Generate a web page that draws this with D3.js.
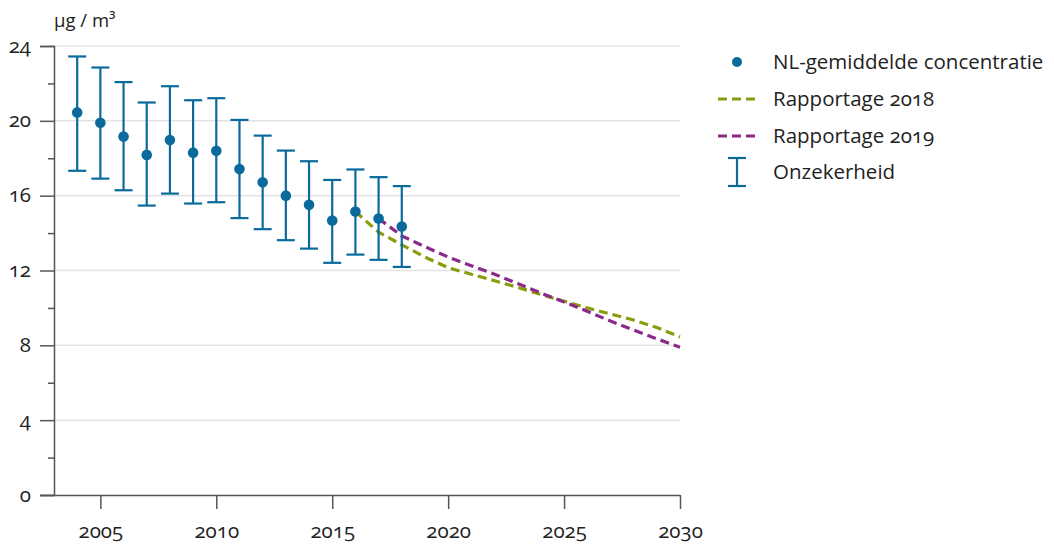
<!DOCTYPE html>
<html>
<head>
<meta charset="utf-8">
<script src="https://cdn.jsdelivr.net/npm/d3@7"></script>
<style>
  body { margin: 0; background: #fff; }
  svg text { font-family: "Open Sans", "Noto Sans", sans-serif; fill: #222; font-variant-numeric: oldstyle-nums; }
</style>
</head>
<body>
<div id="chart"></div>
<script>
const years = [2004, 2005, 2006, 2007, 2008, 2009, 2010, 2011, 2012, 2013, 2014, 2015, 2016, 2017, 2018];
const meanValues = [20.45, 19.9, 19.16, 18.18, 18.97, 18.3, 18.4, 17.42, 16.72, 16.0, 15.51, 14.67, 15.15, 14.78, 14.35];
const upperValues = [23.44, 22.85, 22.07, 20.98, 21.85, 21.1, 21.21, 20.05, 19.21, 18.41, 17.84, 16.84, 17.4, 16.99, 16.51];
const lowerValues = [17.33, 16.91, 16.29, 15.47, 16.11, 15.58, 15.65, 14.8, 14.21, 13.62, 13.17, 12.41, 12.85, 12.57, 12.19];

const years2018 = [2016, 2017, 2018, 2019, 2020, 2021, 2022, 2023, 2024, 2025, 2026, 2027, 2028, 2029, 2030];
const rapportage2018 = [15.15, 14.05, 13.37, 12.72, 12.15, 11.8, 11.45, 11.1, 10.72, 10.36, 10.0, 9.68, 9.35, 8.95, 8.45];
const years2019 = [2017, 2018, 2019, 2020, 2021, 2022, 2023, 2024, 2025, 2026, 2027, 2028, 2029, 2030];
const rapportage2019 = [14.78, 13.85, 13.27, 12.72, 12.25, 11.8, 11.3, 10.8, 10.32, 9.82, 9.3, 8.82, 8.35, 7.9];

const yTicks = [0, 4, 8, 12, 16, 20, 24];
const yMinor = [2, 6, 10, 14, 18, 22];
const xTicks = [2005, 2010, 2015, 2020, 2025, 2030];
const legendLabels = ["NL-gemiddelde concentratie", "Rapportage 2018", "Rapportage 2019", "Onzekerheid"];

const blue = "#0a6a9c", green = "#8b9b0c", purple = "#8c2a8c";

const width = 1054, height = 544;
const svg = d3.select("#chart").append("svg")
    .attr("width", width).attr("height", height);

const x = d3.scaleLinear().domain([2003, 2030]).range([54, 680]);
const y = d3.scaleLinear().domain([0, 24]).range([495, 46]);

// gridlines
svg.append("g").selectAll("line")
    .data(yTicks.slice(1)).enter().append("line")
    .attr("x1", x(2003)).attr("x2", x(2030))
    .attr("y1", d => y(d)).attr("y2", d => y(d))
    .attr("stroke", "#e3e3e3").attr("stroke-width", 1.5);

// y axis
const yAxis = svg.append("g").attr("transform", `translate(${x(2003)},0)`)
    .call(d3.axisLeft(y).tickValues(yTicks).tickSize(14).tickPadding(9).tickFormat(d3.format("d")));
yAxis.selectAll(".tick text").style("font-size", "20.5px").attr("dy", "0.3em");
svg.append("g").attr("transform", `translate(${x(2003)},0)`)
    .call(d3.axisLeft(y).tickValues(yMinor).tickSize(6).tickFormat(""))
    .select(".domain").remove();

// x axis
const xAxis = svg.append("g").attr("transform", `translate(0,${y(0)})`)
    .call(d3.axisBottom(x).tickValues(xTicks).tickSize(14).tickPadding(14).tickFormat(d3.format("d")));
xAxis.selectAll(".tick text").style("font-size", "20.5px");
xAxis.select(".domain").attr("d", `M40,0.5H${x(2030)}`);

svg.selectAll(".domain, .tick line").attr("stroke", "#555").attr("stroke-width", 1.5);

svg.append("text").attr("x", 54).attr("y", 27).style("font-size", "18.5px").text("µg / m³");

// projection lines
const line = d3.line().x(d => x(d[0])).y(d => y(d[1]));
svg.append("path")
    .datum(years2018.map((yr, i) => [yr, rapportage2018[i]]))
    .attr("d", line).attr("fill", "none")
    .attr("stroke", green).attr("stroke-width", 3.2).attr("stroke-dasharray", "9,5");
svg.append("path")
    .datum(years2019.map((yr, i) => [yr, rapportage2019[i]]))
    .attr("d", line).attr("fill", "none")
    .attr("stroke", purple).attr("stroke-width", 3.2).attr("stroke-dasharray", "9,5");

// error bars
const bars = svg.append("g").selectAll("g")
    .data(years.map((yr, i) => ({ yr, m: meanValues[i], lo: lowerValues[i], hi: upperValues[i] })))
    .enter().append("g").attr("stroke", blue).attr("stroke-width", 2.2);
bars.append("line").attr("x1", d => x(d.yr)).attr("x2", d => x(d.yr))
    .attr("y1", d => y(d.hi)).attr("y2", d => y(d.lo));
bars.append("line").attr("x1", d => x(d.yr) - 9).attr("x2", d => x(d.yr) + 9)
    .attr("y1", d => y(d.hi)).attr("y2", d => y(d.hi));
bars.append("line").attr("x1", d => x(d.yr) - 9).attr("x2", d => x(d.yr) + 9)
    .attr("y1", d => y(d.lo)).attr("y2", d => y(d.lo));
bars.append("circle").attr("cx", d => x(d.yr)).attr("cy", d => y(d.m))
    .attr("r", 5.3).attr("fill", blue).attr("stroke", "none");

// legend
const legend = svg.append("g");
const rowY = [62, 99, 136, 172];
legend.append("circle").attr("cx", 737).attr("cy", rowY[0]).attr("r", 5).attr("fill", blue);
legend.append("line").attr("x1", 718).attr("x2", 755).attr("y1", rowY[1]).attr("y2", rowY[1])
    .attr("stroke", green).attr("stroke-width", 3.2).attr("stroke-dasharray", "9,5");
legend.append("line").attr("x1", 718).attr("x2", 755).attr("y1", rowY[2]).attr("y2", rowY[2])
    .attr("stroke", purple).attr("stroke-width", 3.2).attr("stroke-dasharray", "9,5");
const ico = legend.append("g").attr("stroke", blue).attr("stroke-width", 2.2);
ico.append("line").attr("x1", 737).attr("x2", 737).attr("y1", 158).attr("y2", 186);
ico.append("line").attr("x1", 728).attr("x2", 746).attr("y1", 158).attr("y2", 158);
ico.append("line").attr("x1", 728).attr("x2", 746).attr("y1", 186).attr("y2", 186);
legend.selectAll("text").data(legendLabels).enter().append("text")
    .attr("x", 773).attr("y", (d, i) => rowY[i]).attr("dy", "0.35em")
    .style("font-size", "20.5px").text(d => d);
</script>
</body>
</html>
